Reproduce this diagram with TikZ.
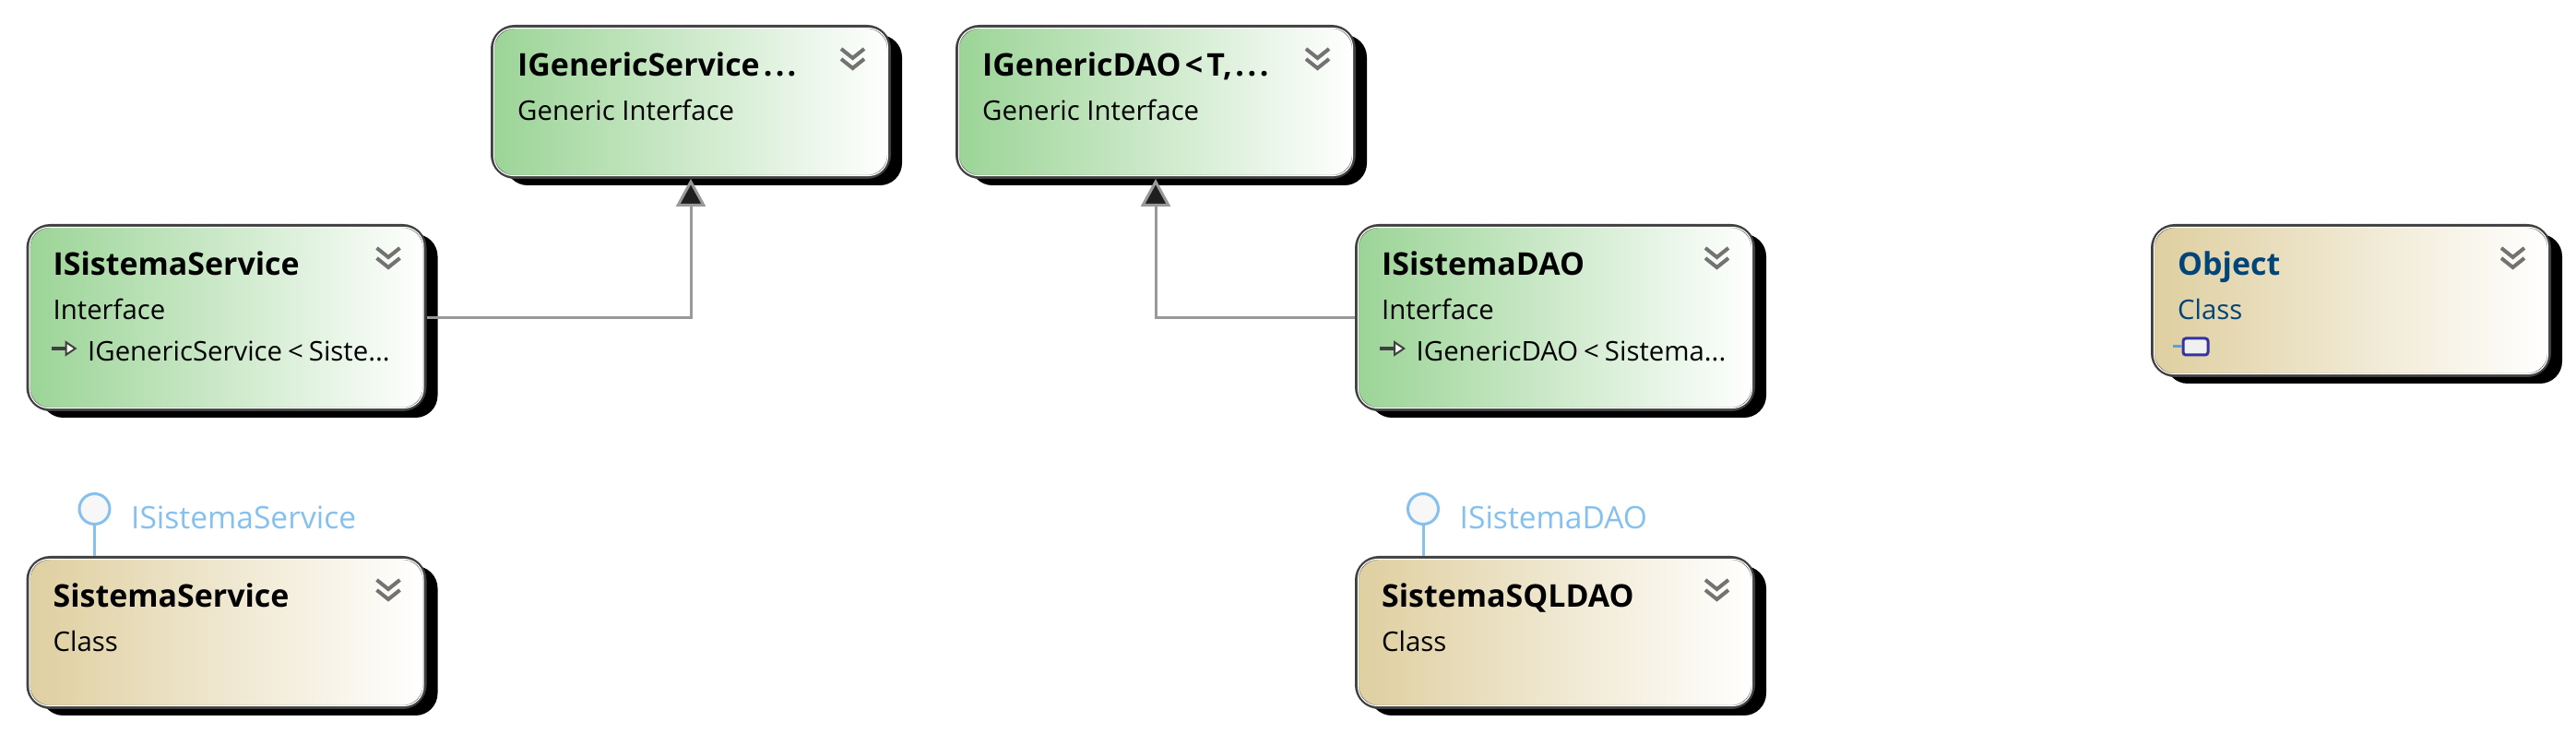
\documentclass[tikz,border=0pt]{standalone}
\usepackage{fontspec}
\setmainfont{Open Sans}
\usepackage{tikz}
\usetikzlibrary{arrows.meta,positioning,calc,shadows}
\definecolor{ifgreen}{RGB}{155,212,150}
\definecolor{clstan}{RGB}{223,207,160}
\definecolor{lolblue}{RGB}{133,192,238}
\definecolor{navy}{RGB}{0,69,122}
\tikzset{
  box/.style={draw=black!75,line width=.04cm,rounded corners=.24cm,minimum width=4.3cm,inner sep=0pt,
    left color=#1,right color=white,
    drop shadow={shadow xshift=.14cm,shadow yshift=-.09cm,opacity=1,fill=black}},
  ttl/.style={anchor=base west,inner sep=0pt,font=\fontsize{9.65}{12}\selectfont\bfseries},
  sub/.style={anchor=base west,inner sep=0pt,font=\fontsize{8.35}{10}\selectfont},
  lol/.style={draw=lolblue,line width=.03cm,fill=black!3,circle,minimum size=.33cm,inner sep=0pt},
  lollbl/.style={anchor=base west,inner sep=0pt,text=lolblue,font=\fontsize{9.55}{11}\selectfont},
  inh/.style={draw=black!40,line width=.03cm,-{Triangle[length=.3cm,width=.32cm,fill=black!88,line width=.03cm]}},
  chev/.style={draw=black!55,line width=.04cm},
}
\begin{document}
\begin{tikzpicture}
 \useasboundingbox (0,0) rectangle (27.93,-7.95);
 % boxes
 \foreach \b/\xx/\yy/\hh/\col/\txt/\tt/\ss in {
   gsvc/7.49/-1.105/1.63/ifgreen/black/{IGenericService\kern1.2pt.\kern.9pt.\kern.9pt.}/{Generic Interface},
   gdao/12.53/-1.105/1.63/ifgreen/black/{IGenericDAO\kern1.2pt<\kern1.2pt T,\kern1pt.\kern1pt.\kern1pt.}/{Generic Interface},
   isvc/2.455/-3.445/1.99/ifgreen/black/{ISistemaService}/{Interface},
   idao/16.86/-3.445/1.99/ifgreen/black/{ISistemaDAO}/{Interface},
   svc/2.455/-6.86/1.62/clstan/black/{SistemaService}/{Class},
   sql/16.86/-6.86/1.62/clstan/black/{SistemaSQLDAO}/{Class},
   obj/25.49/-3.26/1.62/clstan/navy/{Object}/{Class}}{
   \node[box=\col,minimum height=\hh cm] (\b) at (\xx,\yy) {};
   \node[ttl,text=\txt] (\b T) at ([shift={(.285,-.56)}]\b.north west) {\tt};
   \node[sub,text=\txt] (\b S) at ([shift={(.285,-1.04)}]\b.north west) {\ss};
 }
 % inner edge and chevrons
 \foreach \b in {gsvc,gdao,isvc,idao,svc,sql,obj}{
   \draw[white,line width=.012cm,rounded corners=.21cm] ([shift={(.035,.035)}]\b.south west) rectangle ([shift={(-.035,-.035)}]\b.north east);
   \draw[chev] ([shift={(-.54,-.26)}]\b.north east) -- ++(.125,-.1) -- ++(.125,.1);
   \draw[chev] ([shift={(-.54,-.37)}]\b.north east) -- ++(.125,-.1) -- ++(.125,.1);
 }
 % realised interfaces, third line
 \foreach \b/\tt in {isvc/{IGenericService\kern1.7pt<\kern1.7pt Siste...},idao/{IGenericDAO\kern1.7pt<\kern1.7pt Sistema...}}{
   \node[sub] (\b I) at ([shift={(.66,-1.49)}]\b.north west) {\tt};
   \coordinate (\b A) at ([shift={(-.39,.14)}]\b I.base west);
   \draw[black!75,line width=.035cm,-{Triangle[open,length=.13cm,width=.17cm,fill=white,line width=.02cm]}] (\b A) -- ++(.28,0);
 }
 % object icon
 \node[draw=blue!55!black!80,fill=black!6,rounded corners=.03cm,line width=.03cm,minimum width=.27cm,minimum height=.18cm,inner sep=0pt] (objI) at ([shift={(.485,-1.33)}]obj.north west) {};
 \coordinate (objC) at ([xshift=-.1cm]objI.west);
 \draw[cyan!70!blue!70,line width=.03cm] (objI.west) -- (objC);
 % lollipops
 \foreach \l/\b/\nm in {lsvc/svc/ISistemaService,lsql/sql/ISistemaDAO}{
   \node[lol] (\l) at ([shift={(.74,.51)}]\b.north west) {};
   \node[lollbl] (\l T) at ([shift={(.39,-.22)}]\l.center) {\nm};
   \draw[lolblue,line width=.03cm] (\l) -- (\l |- \b.north);
 }
 % inheritance
 \draw[inh] (isvc.east) -| (gsvc.south);
 \draw[inh] (idao.west) -| (gdao.south);
\end{tikzpicture}
\end{document}
